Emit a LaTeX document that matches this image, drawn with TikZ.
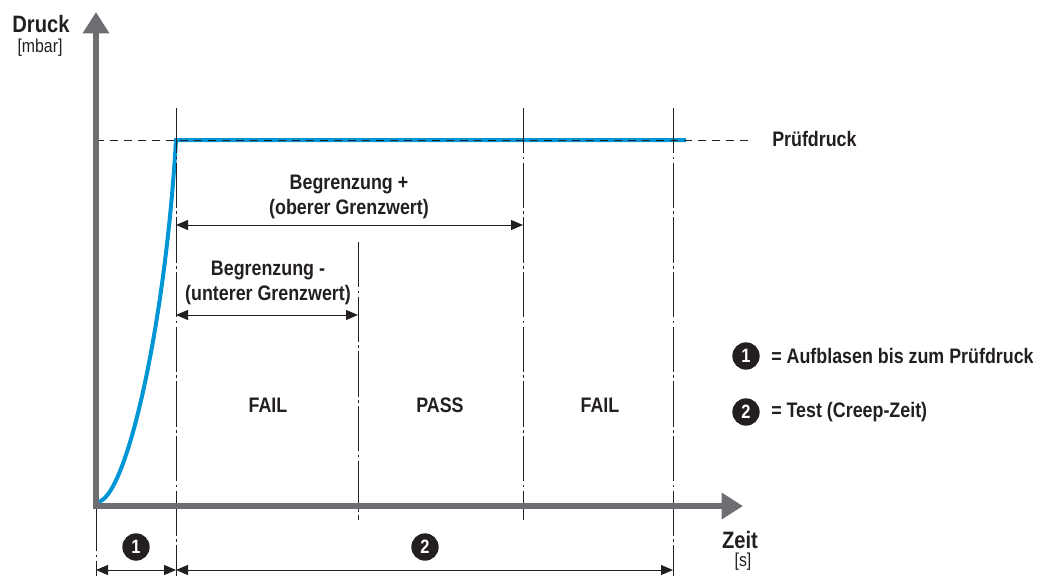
\documentclass[tikz,border=0pt]{standalone}
\usepackage{fontspec}
\setmainfont[FakeStretch=0.85]{Liberation Sans}
\usetikzlibrary{arrows.meta}

\definecolor{axisgray}{HTML}{6D6E71}
\definecolor{curveblue}{HTML}{0096D6}
\definecolor{darkdot}{HTML}{231F20}

\begin{document}
\begin{tikzpicture}[x=0.75pt, y=-0.75pt,
    lbl/.style={font=\fontsize{15.75}{18.75}\selectfont\bfseries, text=darkdot, inner sep=0pt},
    unitlbl/.style={font=\fontsize{14}{16}\selectfont, text=darkdot, inner sep=0pt},
    numdot/.style={circle, fill=darkdot, text=white, minimum size=20.5pt, inner sep=0pt,
        font=\fontsize{14.5}{14.5}\selectfont\bfseries},
    gridline/.style={darkdot, line width=0.75pt, dash pattern=on 34pt off 2.5pt on 2pt off 2.5pt},
    dimarrow/.style={darkdot, line width=0.75pt, {Triangle[length=9pt, width=7.5pt]}-{Triangle[length=9pt, width=7.5pt]}}]

    \useasboundingbox (0,0) rectangle (1046,576);

    % Axis points
    \coordinate (O) at (96,506);
    \coordinate (ytip) at (96,12);
    \coordinate (xtip) at (743,506);
    % Test pressure level
    \coordinate (p0) at (96,140);
    \coordinate (p1) at (752,140);
    % Time marks
    \coordinate (t1top) at (176,108);
    \coordinate (t1bot) at (176,576);
    \coordinate (t2top) at (358,242);
    \coordinate (t2bot) at (358,520);
    \coordinate (t3top) at (523,108);
    \coordinate (t3bot) at (523,520);
    \coordinate (t4top) at (673,108);
    \coordinate (t4bot) at (673,576);
    \coordinate (t0bot) at (96,576);

    % Pressure curve
    \draw[curveblue, line width=3pt, line join=miter]
        (97,502) .. controls (125,502) and (165,330) .. (176,140) -- (686,140);

    % Test pressure line
    \draw[darkdot, line width=0.75pt, dash pattern=on 6pt off 4.5pt] (p0) -- (p1);

    % Time marks
    \draw[gridline] (t1top) -- (t1bot);
    \draw[gridline] (t2top) -- (t2bot);
    \draw[gridline] (t3top) -- (t3bot);
    \draw[gridline] (t4top) -- (t4bot);
    \draw[gridline] (O) -- (t0bot);

    % Axes
    \draw[axisgray, line width=4pt, line join=miter,
        {Triangle[length=16pt, width=19pt]}-{Triangle[length=16pt, width=19pt]}]
        (ytip) -- (O) -- (xtip);

    % Axis labels
    \node[lbl, font=\fontsize{17.8}{20}\selectfont\bfseries] (druck) at (41,24) {Druck};
    \node[unitlbl] (mbar) at (40,48) {[mbar]};
    \node[lbl, font=\fontsize{17.8}{20}\selectfont\bfseries] (zeit) at (740,540) {Zeit};
    \node[unitlbl] (sek) at (743,562) {[s]};
    \node[lbl, anchor=west] (pruef) at (772,139) {Prüfdruck};

    % Limits
    \coordinate (up0) at (176,225);
    \coordinate (up1) at (523,225);
    \coordinate (lo0) at (176,315);
    \coordinate (lo1) at (358,315);
    \draw[dimarrow] (up0) -- (up1);
    \draw[dimarrow] (lo0) -- (lo1);
    \node[lbl, align=center] (oben) at (349,197) {Begrenzung +\\(oberer Grenzwert)};
    \node[lbl, align=center] (unten) at (268,283) {Begrenzung -\\(unterer Grenzwert)};

    % Zones
    \node[lbl] (fail1) at (268,405) {FAIL};
    \node[lbl] (pass) at (440,405) {PASS};
    \node[lbl] (fail2) at (600,405) {FAIL};

    % Phases
    \coordinate (ph0) at (96,570);
    \coordinate (ph1) at (176,570);
    \coordinate (ph2) at (673,570);
    \draw[dimarrow] (ph0) -- (ph1);
    \draw[dimarrow] (ph1) -- (ph2);
    \node[numdot] (n1) at (136,547) {1};
    \node[numdot] (n2) at (425,547) {2};

    % Legend
    \node[numdot] (k1) at (746,356) {1};
    \node[numdot] (k2) at (746,412) {2};
    \node[lbl, anchor=west] (k1txt) at (771,356) {= Aufblasen bis zum Prüfdruck};
    \node[lbl, anchor=west] (k2txt) at (771,412) {= Test (Creep-Zeit)};
\end{tikzpicture}
\end{document}
